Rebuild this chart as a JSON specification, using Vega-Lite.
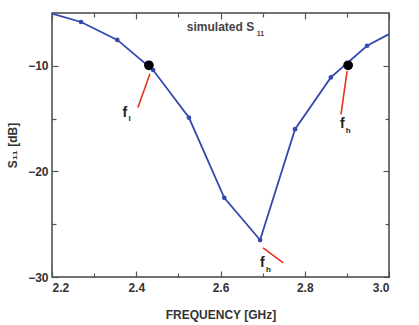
{
  "$schema": "https://vega.github.io/schema/vega-lite/v6.json",
  "width": 337,
  "height": 264,
  "autosize": "none",
  "padding": {"left": 52, "top": 13, "right": 30, "bottom": 48},
  "background": "white",
  "config": {
    "view": {"stroke": "#444", "strokeWidth": 1.5},
    "axis": {"labelFont": "Liberation Sans", "titleFont": "Liberation Sans", "labelFontWeight": "bold", "titleFontWeight": "bold", "labelColor": "#333", "titleColor": "#333", "labelFontSize": 12, "titleFontSize": 12, "domain": false, "grid": false, "tickColor": "#555", "tickWidth": 1.2}
  },
  "datasets": {
    "curve": [
      {"f": 2.2, "s": -5.05},
      {"f": 2.269, "s": -5.85},
      {"f": 2.355, "s": -7.55},
      {"f": 2.44, "s": -10.4},
      {"f": 2.525, "s": -14.9},
      {"f": 2.609, "s": -22.5},
      {"f": 2.694, "s": -26.5},
      {"f": 2.777, "s": -16.0},
      {"f": 2.862, "s": -11.1},
      {"f": 2.948, "s": -8.1},
      {"f": 3.0, "s": -7.0}
    ],
    "markers": [
      {"f": 2.269, "s": -5.85},
      {"f": 2.355, "s": -7.55},
      {"f": 2.44, "s": -10.4},
      {"f": 2.525, "s": -14.9},
      {"f": 2.609, "s": -22.5},
      {"f": 2.694, "s": -26.5},
      {"f": 2.777, "s": -16.0},
      {"f": 2.862, "s": -11.1},
      {"f": 2.948, "s": -8.1}
    ],
    "corners": [
      {"f": 2.430, "s": -9.95},
      {"f": 2.903, "s": -9.95}
    ],
    "arrows": [
      {"id": "a", "f": 2.4325, "s": -10.75},
      {"id": "a", "f": 2.404, "s": -13.95},
      {"id": "b", "f": 2.9005, "s": -10.5},
      {"id": "b", "f": 2.886, "s": -14.6},
      {"id": "c", "f": 2.701, "s": -27.25},
      {"id": "c", "f": 2.749, "s": -28.67}
    ],
    "labels": [
      {"t": "f", "f": 2.373, "s": -14.5},
      {"t": "f", "f": 2.889, "s": -15.5},
      {"t": "f", "f": 2.699, "s": -28.67}
    ],
    "subs": [
      {"t": "l", "f": 2.384, "s": -15.0},
      {"t": "h", "f": 2.903, "s": -16.2},
      {"t": "h", "f": 2.714, "s": -29.3}
    ],
    "title": [
      {"t": "simulated S", "f": 2.6, "s": -6.33}
    ],
    "titlesub": [
      {"t": "11", "f": 2.695, "s": -6.95}
    ]
  },
  "layer": [
    {
      "layer": [
        {
          "data": {"name": "curve"},
          "mark": {"type": "line", "color": "#3548b0", "strokeWidth": 1.8},
          "encoding": {
            "x": {"field": "f", "type": "quantitative", "scale": {"domain": [2.2, 3.0], "nice": false},
              "axis": {"title": "FREQUENCY [GHz]", "values": [2.2, 2.3, 2.4, 2.5, 2.6, 2.7, 2.8, 2.9, 3.0], "format": ".1f",
                "labelExpr": "abs(datum.value*10 % 2) < 0.01 || abs(datum.value*10 % 2 - 2) < 0.01 ? datum.label : ''",
                "tickSize": {"condition": {"test": "abs(datum.value*10 % 2) < 0.01 || abs(datum.value*10 % 2 - 2) < 0.01", "value": -6}, "value": -4},
                "labelPadding": 11, "titlePadding": 16}},
            "y": {"field": "s", "type": "quantitative", "scale": {"domain": [-30, -5], "nice": false},
              "axis": {"title": "S₁₁ [dB]", "values": [-30, -25, -20, -15, -10], "labelExpr": "datum.value % 10 == 0 ? datum.label : ''",
                "tickSize": {"condition": {"test": "datum.value % 10 == 0", "value": -6}, "value": -4},
                "labelPadding": 10, "titlePadding": 8}}
          }
        },
        {
          "data": {"name": "markers"},
          "mark": {"type": "point", "filled": true, "color": "#3548b0", "size": 22, "opacity": 1},
          "encoding": {"x": {"field": "f", "type": "quantitative"}, "y": {"field": "s", "type": "quantitative"}}
        },
        {
          "data": {"name": "corners"},
          "mark": {"type": "point", "filled": true, "color": "black", "size": 95, "opacity": 1},
          "encoding": {"x": {"field": "f", "type": "quantitative"}, "y": {"field": "s", "type": "quantitative"}}
        },
        {
          "data": {"name": "arrows"},
          "mark": {"type": "line", "color": "#e8321e", "strokeWidth": 1.6},
          "encoding": {"x": {"field": "f", "type": "quantitative"}, "y": {"field": "s", "type": "quantitative"}, "detail": {"field": "id"}}
        },
        {
          "data": {"name": "labels"},
          "mark": {"type": "text", "font": "Liberation Sans", "fontWeight": "bold", "fontSize": 14, "color": "#222"},
          "encoding": {"x": {"field": "f", "type": "quantitative"}, "y": {"field": "s", "type": "quantitative"}, "text": {"field": "t"}}
        },
        {
          "data": {"name": "subs"},
          "mark": {"type": "text", "font": "Liberation Sans", "fontWeight": "bold", "fontSize": 8, "color": "#222"},
          "encoding": {"x": {"field": "f", "type": "quantitative"}, "y": {"field": "s", "type": "quantitative"}, "text": {"field": "t"}}
        },
        {
          "data": {"name": "title"},
          "mark": {"type": "text", "font": "Liberation Sans", "fontWeight": "bold", "fontSize": 12, "color": "#444"},
          "encoding": {"x": {"field": "f", "type": "quantitative"}, "y": {"field": "s", "type": "quantitative"}, "text": {"field": "t"}}
        },
        {
          "data": {"name": "titlesub"},
          "mark": {"type": "text", "font": "Liberation Sans", "fontWeight": "bold", "fontSize": 7, "color": "#444"},
          "encoding": {"x": {"field": "f", "type": "quantitative"}, "y": {"field": "s", "type": "quantitative"}, "text": {"field": "t"}}
        }
      ]
    },
    {
      "data": {"name": "curve"},
      "mark": {"type": "point", "opacity": 0},
      "encoding": {
        "x": {"field": "f", "type": "quantitative", "scale": {"domain": [2.2, 3.0], "nice": false},
          "axis": {"orient": "top", "title": null, "labels": false, "values": [2.2, 2.3, 2.4, 2.5, 2.6, 2.7, 2.8, 2.9, 3.0],
            "tickSize": {"condition": {"test": "abs(datum.value*10 % 2) < 0.01 || abs(datum.value*10 % 2 - 2) < 0.01", "value": -6}, "value": -4}}},
        "y": {"field": "s", "type": "quantitative", "scale": {"domain": [-30, -5], "nice": false},
          "axis": {"orient": "right", "title": null, "labels": false, "values": [-30, -25, -20, -15, -10],
            "tickSize": {"condition": {"test": "datum.value % 10 == 0", "value": -6}, "value": -4}}}
      }
    }
  ],
  "resolve": {"scale": {"x": "independent", "y": "independent"}}
}
